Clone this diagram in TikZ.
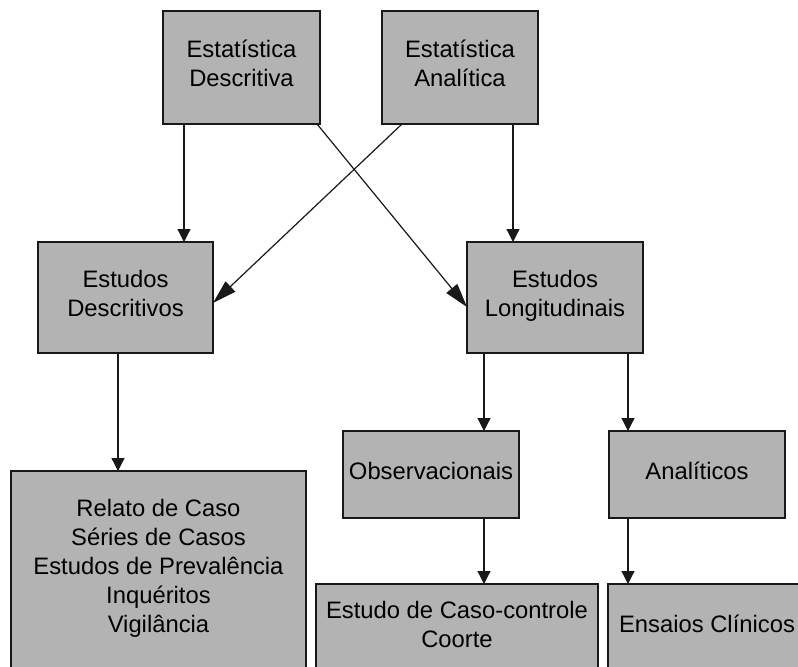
\documentclass[tikz,border=0pt]{standalone}
\usepackage{fontspec}
\setmainfont{Liberation Sans}
\usetikzlibrary{arrows.meta,calc}
\definecolor{boxgray}{RGB}{179,179,179}
\definecolor{edge}{RGB}{25,25,25}

\begin{document}
\begin{tikzpicture}[x=0.5pt,y=-0.5pt,
    bx/.style={draw=edge,line width=1pt,fill=boxgray,anchor=north west,
        inner sep=0pt,outer sep=0pt,align=center,text depth=4pt,
        font=\fontsize{11.9}{14.5}\selectfont},
    arr/.style={draw=edge,line width=0.6pt,-{Triangle[length=6.5pt,width=6.5pt]}},
    diag/.style={draw=edge,line width=0.6pt,-{Triangle[length=12pt,width=7pt]}}]
            \useasboundingbox (0,0) rectangle (798,666);
            \fill [white] (0,0) rectangle (798,666);
            \clip (0,0) rectangle (798,666);

            \node [bx,minimum width=78.5pt,minimum height=56.5pt] (estdesc) at (163,11) {Estatística\\Descritiva};
            \node [bx,minimum width=78pt,minimum height=56.5pt] (estanal) at (382,11) {Estatística\\Analítica};
            \node [bx,minimum width=87.5pt,minimum height=55.5pt] (descr) at (38,242) {Estudos\\Descritivos};
            \node [bx,minimum width=88pt,minimum height=55.5pt] (longi) at (467,242) {Estudos\\Longitudinais};
            \node [bx,minimum width=147.5pt,minimum height=99pt] (lista) at (11,471)
                {Relato de Caso\\ Séries de Casos\\Estudos de Prevalência\\Inquéritos\\Vigilância};
            \node [bx,minimum width=88pt,minimum height=43.5pt] (obs) at (343,431) {Observacionais};
            \node [bx,minimum width=88pt,minimum height=43.5pt] (anal) at (609,431) {Analíticos};
            \node [bx,minimum width=141pt,minimum height=44pt] (caso) at (316,584) {Estudo de Caso-controle\\Coorte};
            \node [bx,minimum width=99pt,minimum height=44pt] (ensaio) at (608,584) {Ensaios Clínicos};

            \foreach \a/\dx/\b in {estdesc/21/descr, estanal/131/longi, descr/80/lista,
                    longi/17/obs, longi/161/anal, obs/141/caso, anal/19/ensaio} {
                \draw [arr] ($(\a.south west)+(\dx,0)$) coordinate (p) -- (p |- \b.north);
            }

            \draw [diag] ($(estdesc.south east)+(-3,0)$) -- ($(longi.north west)+(0,65)$);
            \draw [diag] ($(estanal.south west)+(20,0)$) -- ($(descr.north east)+(0,61)$);
        \end{tikzpicture}
\end{document}
